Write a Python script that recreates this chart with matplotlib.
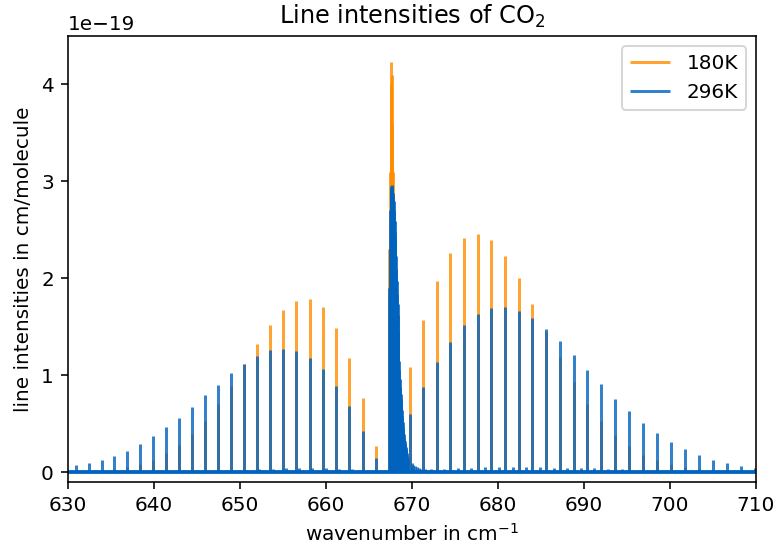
import matplotlib
matplotlib.use("Agg")
import matplotlib.pyplot as plt
import numpy as np

# P branch (lines), intensities in 1e-19 cm/molecule
p_wn = [630.93, 632.44, 633.91, 635.38, 636.90, 638.37, 639.88, 641.36, 642.87, 644.38,
        645.90, 647.41, 648.92, 650.43, 651.94, 653.49, 655.00, 656.55, 658.10, 659.65,
        661.16, 662.71, 664.30, 665.81]
p_296 = [0.07, 0.093, 0.127, 0.17, 0.22, 0.29, 0.37, 0.46, 0.56, 0.67,
         0.79, 0.90, 1.02, 1.12, 1.20, 1.26, 1.27, 1.25, 1.18, 1.06,
         0.89, 0.68, 0.42, 0.144]
p_180 = [0.006, 0.01, 0.017, 0.028, 0.05, 0.086, 0.127, 0.196, 0.275, 0.39,
         0.53, 0.70, 0.89, 1.11, 1.32, 1.52, 1.67, 1.77, 1.79, 1.70,
         1.49, 1.18, 0.76, 0.265]

# Q branch (dense)
q_wn = [667.37, 667.42, 667.47, 667.52, 667.56, 667.60, 667.65, 667.70, 667.75, 667.80,
        667.86, 667.91, 667.97, 668.01, 668.05, 668.10, 668.16, 668.22, 668.28, 668.32,
        668.36, 668.40, 668.43, 668.48, 668.53, 668.58, 668.63, 668.67, 668.72, 668.76,
        668.81, 668.86, 668.91, 668.96, 669.01, 669.06, 669.11, 669.16, 669.21, 669.25,
        669.30, 669.35, 669.39, 669.47, 669.55, 669.97, 670.17, 670.37, 670.56, 670.76,
        671.10, 671.53]
q_296 = [1.90, 2.30, 2.70, 2.88, 2.93, 2.95, 2.96, 2.94, 2.88, 2.84,
         2.80, 2.70, 2.59, 2.48, 2.36, 2.23, 2.10, 1.97, 1.84, 1.73,
         1.62, 1.45, 1.25, 1.15, 1.05, 0.96, 0.88, 0.81, 0.75, 0.70,
         0.64, 0.58, 0.52, 0.47, 0.43, 0.39, 0.35, 0.32, 0.29, 0.26,
         0.24, 0.22, 0.20, 0.17, 0.15, 0.09, 0.075, 0.06, 0.05, 0.04,
         0.035, 0.03]
q_180 = [2.30, 2.60, 3.10, 3.70, 4.00, 4.23, 4.10, 3.60, 3.10, 2.85,
         2.70, 2.55, 2.40, 2.22, 2.05, 1.88, 1.70, 1.52, 1.35, 1.25,
         1.15, 1.05, 0.95, 0.85, 0.75, 0.67, 0.60, 0.54, 0.48, 0.44,
         0.40, 0.35, 0.31, 0.28, 0.25, 0.22, 0.19, 0.17, 0.15, 0.13,
         0.12, 0.11, 0.10, 0.085, 0.07, 0.03, 0.025, 0.02, 0.015, 0.012,
         0.01, 0.008]

# R branch
r_wn = [669.77, 671.31, 672.91, 674.45, 676.05, 677.64, 679.22, 680.81, 682.40, 683.99,
        685.58, 687.21, 688.80, 690.38, 692.01, 693.64, 695.23, 696.82, 698.45, 700.08,
        701.71, 703.34, 704.97, 706.63, 708.26, 709.85]
r_296 = [0.595, 0.876, 1.134, 1.347, 1.515, 1.63, 1.69, 1.70, 1.667, 1.59,
         1.478, 1.35, 1.21, 1.055, 0.904, 0.756, 0.625, 0.505, 0.40, 0.31,
         0.24, 0.18, 0.127, 0.093, 0.065, 0.045]
r_180 = [1.08, 1.57, 1.97, 2.26, 2.42, 2.46, 2.39, 2.23, 2.00, 1.735,
         1.46, 1.19, 0.93, 0.70, 0.53, 0.38, 0.265, 0.18, 0.12, 0.08,
         0.05, 0.03, 0.02, 0.012, 0.008, 0.005]

# weak hot-band lines near the base
weak_wn = [650.7, 652.2, 653.8, 655.3, 656.9, 658.4, 660.0, 661.5, 663.0, 672.2,
           673.7, 675.3, 676.9, 678.5, 680.1, 681.7, 683.3, 684.9, 686.5, 688.0,
           689.6, 691.2, 692.8, 694.4]
weak_296 = [0.025, 0.03, 0.035, 0.04, 0.04, 0.045, 0.04, 0.035, 0.03, 0.03,
            0.035, 0.04, 0.045, 0.05, 0.05, 0.05, 0.05, 0.05, 0.045, 0.045,
            0.04, 0.04, 0.035, 0.03]
weak_180 = [0.008, 0.01, 0.012, 0.014, 0.015, 0.016, 0.015, 0.013, 0.011, 0.011,
            0.013, 0.015, 0.016, 0.017, 0.017, 0.016, 0.015, 0.014, 0.012, 0.011,
            0.01, 0.009, 0.008, 0.007]

ORANGE = (1.0, 0.55, 0.0)
BLUE = (0.0, 0.39, 0.75)
SCALE = 1e-19
DPI = 144

wn = np.concatenate([p_wn, q_wn, r_wn, weak_wn])
s180 = np.concatenate([p_180, q_180, r_180, weak_180]) * SCALE
s296 = np.concatenate([p_296, q_296, r_296, weak_296]) * SCALE

fig = plt.figure(figsize=(776 / DPI, 550 / DPI), dpi=DPI)
ax = fig.add_axes([0.0876, 0.1236, 0.8866, 0.8109])

ax.vlines(wn, 0, s180, colors=[ORANGE], alpha=0.8, linewidths=1.5, label="180K")
ax.vlines(wn, 0, s296, colors=[BLUE], alpha=0.8, linewidths=1.5, label="296K")
ax.axhline(0, color=BLUE, lw=1.9)

ax.set_xlim(630, 710)
ax.set_ylim(-0.103e-19, 4.50e-19)
ax.set_xlabel("wavenumber in cm$^{-1}$")
ax.set_ylabel("line intensities in cm/molecule")
ax.set_title("Line intensities of CO$_2$")
ax.legend(loc="upper right")

fig.savefig("out.png", dpi=DPI)
plt.close(fig)
